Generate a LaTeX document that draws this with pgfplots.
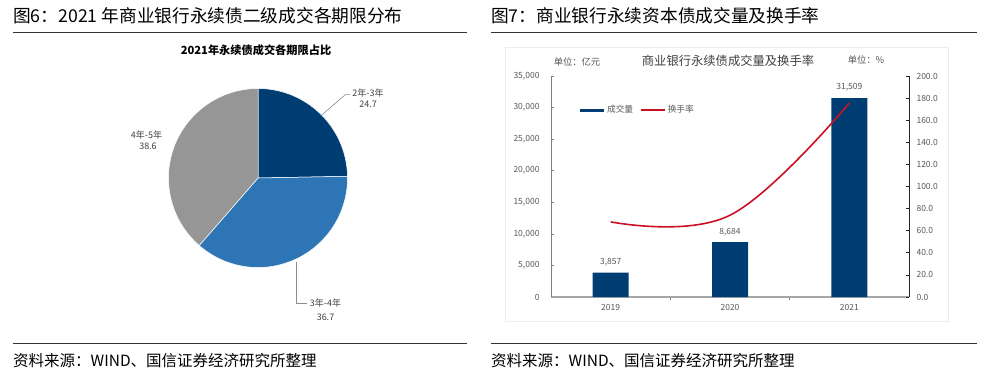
\documentclass[border=0pt]{standalone}
\usepackage{fontspec}
\setmainfont{Noto Sans CJK SC}
\usepackage{pgfplots}
\pgfplotsset{compat=1.18}
\definecolor{dblue}{RGB}{0,61,115}
\definecolor{mblue}{RGB}{46,117,182}
\definecolor{pgray}{RGB}{150,150,150}
\definecolor{lred}{RGB}{204,16,36}
\definecolor{txtgray}{RGB}{89,89,89}
\definecolor{lbl}{RGB}{64,64,64}
\begin{document}
\begin{tikzpicture}[x=1pt,y=1pt]
\fill[white] (0,0) rectangle (991,-381);
% ---- headings and rules
\node[anchor=west,inner sep=0,font=\fontsize{17.7}{17.7}\selectfont] at (13,-16) {图6：2021 年商业银行永续债二级成交各期限分布};
\node[anchor=west,inner sep=0,font=\fontsize{17.7}{17.7}\selectfont] at (491,-16) {图7：商业银行永续资本债成交量及换手率};
\draw[line width=1pt,black!80] (13,-32.5) -- (467,-32.5);
\draw[line width=1pt,black!80] (491,-32.5) -- (977,-32.5);
\draw[line width=1pt,black!80] (13,-343) -- (467,-343);
\draw[line width=1pt,black!80] (491,-343) -- (977,-343);
\node[anchor=west,inner sep=0,font=\fontsize{15.5}{15.5}\selectfont] at (13,-361) {资料来源：WIND、国信证券经济研究所整理};
\node[anchor=west,inner sep=0,font=\fontsize{15.5}{15.5}\selectfont] at (491,-361) {资料来源：WIND、国信证券经济研究所整理};
% ---- pie
\node[font=\fontsize{11.2}{11.2}\selectfont\bfseries] at (256,-50) {2021年永续债成交各期限占比};
\pgfmathsetmacro\aA{90}
\pgfmathsetmacro\aB{90-3.6*24.7}
\pgfmathsetmacro\aC{\aB-3.6*36.7}
\pgfmathsetmacro\aD{\aC-3.6*38.6}
\begin{axis}[at={(258pt,-178pt)},anchor=center,scale only axis,width=179pt,height=179pt,
  xmin=-1,xmax=1,ymin=-1,ymax=1,hide axis,clip=false]
\addplot[fill=dblue,draw=white,line width=0.5pt,domain=\aB:\aA,samples=80,variable=\t] ({cos(\t)},{sin(\t)}) -- (axis cs:0,0) -- cycle;
\addplot[fill=mblue,draw=white,line width=0.5pt,domain=\aC:\aB,samples=80,variable=\t] ({cos(\t)},{sin(\t)}) -- (axis cs:0,0) -- cycle;
\addplot[fill=pgray,draw=white,line width=0.5pt,domain=\aD:\aC,samples=80,variable=\t] ({cos(\t)},{sin(\t)}) -- (axis cs:0,0) -- cycle;
\end{axis}
\draw[black!45,line width=0.6pt] (321.7,-115) -- (345.7,-94.3) -- (350,-94.3);
\draw[black!45,line width=0.6pt] (296,-261.7) -- (296,-302.8) -- (307,-302.8);
\node[font=\fontsize{9}{9}\selectfont,text=lbl] at (368,-93.3) {2年-3年};
\node[font=\fontsize{9}{9}\selectfont,text=lbl] at (368,-104.5) {24.7};
\node[font=\fontsize{9}{9}\selectfont,text=lbl] at (325.5,-303.3) {3年-4年};
\node[font=\fontsize{9}{9}\selectfont,text=lbl] at (325.5,-317.3) {36.7};
\node[font=\fontsize{9}{9}\selectfont,text=lbl] at (146.5,-135) {4年-5年};
\node[font=\fontsize{9}{9}\selectfont,text=lbl] at (148,-146.7) {38.6};
% ---- right chart
\draw[black!7] (505,-47) rectangle (948,-321);
\node[font=\fontsize{12.3}{12.3}\selectfont,text=lbl] at (728,-61) {商业银行永续债成交量及换手率};
\node[font=\fontsize{9.3}{9.3}\selectfont,text=txtgray] at (577,-62) {单位：亿元};
\node[font=\fontsize{9.3}{9.3}\selectfont,text=txtgray] at (866,-60) {单位：\%};
\begin{axis}[at={(551pt,-297pt)},anchor=south west,scale only axis,width=358pt,height=221pt,
  xmin=-0.5,xmax=2.5,ymin=0,ymax=35000,
  axis y line*=left,axis x line*=bottom,axis line style={-},
  x axis line style={draw=black!35,line width=1.6pt},
  y axis line style={draw=black!50,line width=0.7pt},
  ytick={0,5000,...,35000},scaled y ticks=false,
  xtick={0,1,2},xticklabels={2019,2020,2021},
  minor xtick={0.5,1.5},
  tick align=inside,major tick length=3pt,minor tick length=3pt,
  x tick style={draw=none},
  minor x tick style={draw=black!50,line width=0.7pt},
  y tick style={draw=black!50,line width=0.7pt},
  tick label style={font=\fontsize{8.5}{8.5}\selectfont,text=txtgray},
  yticklabel style={xshift=-8pt},
  xticklabel style={yshift=-1pt},
  /pgf/number format/.cd,1000 sep={,},assume math mode=true,/tikz/.cd,
  ybar,bar width=36pt,
  nodes near coords,
  nodes near coords style={font=\fontsize{8.5}{8.5}\selectfont,text=txtgray,yshift=3pt},
]
\addplot[fill=dblue,draw=none] coordinates {(0,3857) (1,8684) (2,31509)};
\end{axis}
\begin{axis}[at={(551pt,-297pt)},anchor=south west,scale only axis,width=358pt,height=221pt,
  xmin=-0.5,xmax=2.5,ymin=0,ymax=200,
  axis y line*=right,axis x line=none,axis line style={-},
  y axis line style={draw=black!85,line width=0.8pt},
  ytick={0,20,...,200},
  tick align=inside,major tick length=3pt,
  y tick style={draw=black!85,line width=0.8pt},
  tick label style={font=\fontsize{8.5}{8.5}\selectfont,text=txtgray},
  yticklabel style={xshift=4pt},
  /pgf/number format/.cd,fixed,fixed zerofill,precision=1,assume math mode=true,/tikz/.cd,
  legend image code/.code={\draw[#1] (0pt,0pt) -- (24pt,0pt);},
  legend style={draw=none,fill=none,legend columns=-1,at={(0.075,0.846)},anchor=west,
    font=\fontsize{8.7}{8.7}\selectfont,text=txtgray,inner sep=0pt,
    /tikz/every even column/.append style={column sep=5pt}},
  legend cell align=left,
]
\addlegendimage{line width=3pt,dblue}
\addlegendentry{成交量}
\addplot[lred,line width=1.6pt,smooth,tension=0.65] coordinates {(0,68) (1,74) (2,175.5)};
\addlegendentry{换手率}
\end{axis}
\end{tikzpicture}
\end{document}
